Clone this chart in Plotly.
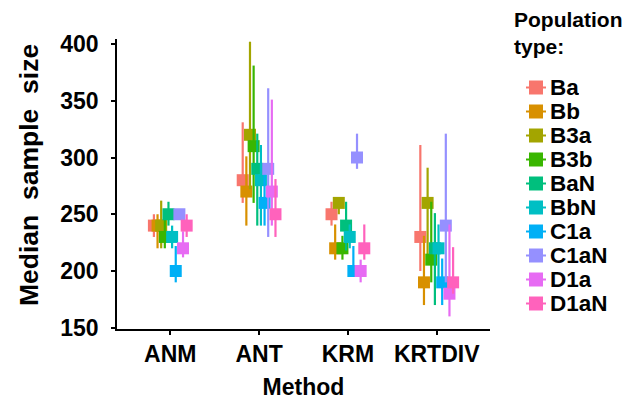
import plotly.graph_objects as go

methods = ["ANM", "ANT", "KRM", "KRTDIV"]
pop_types = ["Ba", "Bb", "B3a", "B3b", "BaN", "BbN", "C1a", "C1aN", "D1a", "D1aN"]
colors = ["#F8766D", "#D89000", "#A3A500", "#39B600", "#00BF7D",
          "#00BFC4", "#00B0F6", "#9590FF", "#E76BF3", "#FF62BC"]

# median sample size per population type (rows) and method (columns: ANM, ANT, KRM, KRTDIV)
medians = [
    [240, 280, 250, 230],  # Ba
    [240, 270, 220, 190],  # Bb
    [240, 320, 260, 260],  # B3a
    [230, 310, 220, 210],  # B3b
    [250, 290, 240, 220],  # BaN
    [230, 280, 230, 220],  # BbN
    [200, 260, 200, 190],  # C1a
    [250, 290, 300, 240],  # C1aN
    [220, 270, 200, 180],  # D1a
    [240, 250, 220, 190],  # D1aN
]
lows = [
    [230, 260, 240, 200],
    [220, 240, 210, 170],
    [220, 272, 250, 210],
    [220, 260, 210, 190],
    [240, 240, 218, 170],
    [220, 240, 220, 190],
    [190, 240, 200, 170],
    [248, 230, 290, 190],
    [212, 240, 190, 160],
    [230, 230, 210, 180],
]
highs = [
    [250, 331, 261, 311],
    [250, 301, 241, 231],
    [262, 402, 262, 291],
    [245, 381, 231, 261],
    [261, 321, 261, 251],
    [240, 311, 241, 241],
    [222, 290, 222, 211],
    [252, 361, 321, 321],
    [235, 351, 210, 241],
    [250, 281, 241, 221],
]

DODGE = 0.041
OFF = 8  # page body margin in the browser
W, H = 635 - OFF, 403 - OFF
L, R, T, B = 117 - OFF, 145, 39 - OFF, 74
FONT = "Liberation Sans, Arial, sans-serif"
BOLD = dict(family=FONT, color="black", weight="bold")

fig = go.Figure()
n = len(pop_types)
for i, (name, col) in enumerate(zip(pop_types, colors)):
    xs = [m + 1 + (i - (n - 1) / 2) * DODGE for m in range(len(methods))]
    med = medians[i]
    lo = lows[i]
    hi = highs[i]
    fig.add_trace(go.Scatter(
        x=xs, y=med, mode="markers", name=name,
        marker=dict(symbol="square", size=12, color=col, line=dict(width=0)),
        error_y=dict(type="data", symmetric=False,
                     array=[h - v for h, v in zip(hi, med)],
                     arrayminus=[v - l for v, l in zip(med, lo)],
                     width=0, thickness=2.2, color=col),
        showlegend=False,
    ))

pw = W - L - R
ph = H - T - B


def px_x(px):
    return (px - OFF - L) / pw


def px_y(py):
    return (H - B - (py - OFF)) / ph


shapes = []
annotations = []
legend_y0 = 87.5
legend_step = 24.0
for i, (name, col) in enumerate(zip(pop_types, colors)):
    yc = px_y(legend_y0 + i * legend_step)
    xc = px_x(536)
    shapes.append(dict(type="line", xref="paper", yref="paper",
                       xsizemode="pixel", ysizemode="pixel",
                       xanchor=xc, yanchor=yc, x0=-10, x1=10, y0=0, y1=0,
                       line=dict(color=col, width=2)))
    shapes.append(dict(type="rect", xref="paper", yref="paper",
                       xsizemode="pixel", ysizemode="pixel",
                       xanchor=xc, yanchor=yc, x0=-7, x1=7, y0=-7, y1=7,
                       fillcolor=col, line=dict(width=0)))
    annotations.append(dict(text=name, xref="paper", yref="paper",
                            x=px_x(549), y=yc, xanchor="left", yanchor="middle",
                            height=23, valign="middle", borderpad=0,
                            showarrow=False, font=dict(size=22.5, **BOLD)))

annotations.append(dict(text="Population<br>type:", xref="paper", yref="paper",
                        x=px_x(512), y=px_y(33.5), xanchor="left", yanchor="middle",
                        align="left", showarrow=False, font=dict(size=21, **BOLD)))
annotations.append(dict(text="Median  sample  size", xref="paper", yref="paper",
                        x=px_x(29), y=px_y(175), xanchor="center", yanchor="middle",
                        textangle=-90, showarrow=False, font=dict(size=26.5, **BOLD)))

axis_common = dict(showgrid=False, zeroline=False, showline=True, linecolor="black",
                   linewidth=1.5, ticks="outside", ticklen=4, tickwidth=1.5,
                   tickcolor="black", tickfont=dict(size=23, **BOLD),
                   automargin=False)

fig.update_layout(
    width=W, height=H,
    margin=dict(l=L, r=R, t=T, b=B, pad=0, autoexpand=False),
    paper_bgcolor="white", plot_bgcolor="white",
    showlegend=False,
    shapes=shapes, annotations=annotations,
    xaxis=dict(range=[0.4, 4.6], tickmode="array", tickvals=[1, 2, 3, 4],
               ticktext=methods,
               title=dict(text="Method", standoff=13, font=dict(size=23, **BOLD)),
               **axis_common),
    yaxis=dict(range=[148.9, 404.4], tickmode="array",
               tickvals=[150, 200, 250, 300, 350, 400],
               ticklabelstandoff=8,
               **axis_common),
)

fig.write_html("out.html")
